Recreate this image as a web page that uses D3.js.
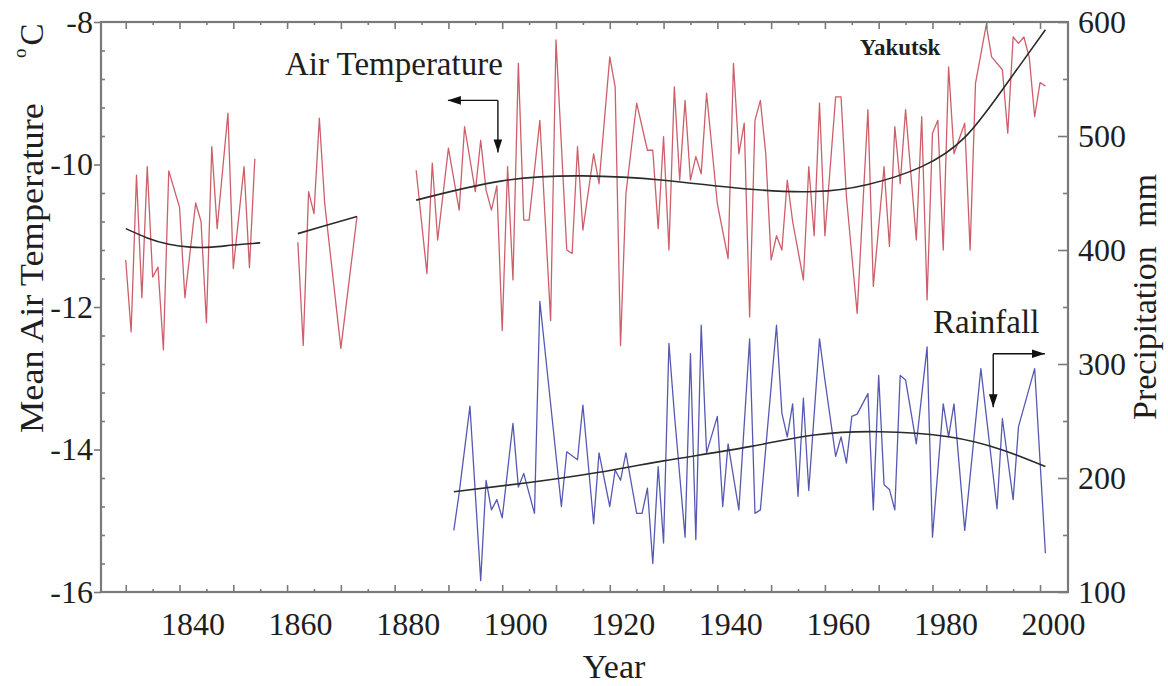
<!DOCTYPE html>
<html>
<head>
<meta charset="utf-8">
<script src="https://cdn.jsdelivr.net/npm/d3@7/dist/d3.min.js"></script>
<style>
  html, body { margin: 0; padding: 0; background: #fff; }
  svg { display: block; }
  text { font-family: "Liberation Serif", "Times New Roman", serif; fill: #1e1e1e; }
</style>
</head>
<body>
<svg id="chart" width="1168" height="686"></svg>
<script>
// ---------------- DATA ----------------
// Air temperature, early segment (deg C)
const tempYears1 = [1830,1831,1832,1833,1834,1835,1836,1837,1838,1840,1841,1843,1844,1845,1846,1847,1849,1850,1852,1853,1854];
const tempVals1  = [-11.34,-12.35,-10.15,-11.87,-10.03,-11.58,-11.44,-12.6,-10.09,-10.6,-11.87,-10.54,-10.8,-12.22,-9.75,-10.9,-9.28,-11.46,-10.03,-11.45,-9.92];
// Air temperature, second segment
const tempYears2 = [1862,1863,1864,1865,1866,1867,1870,1873];
const tempVals2  = [-11.09,-12.54,-10.38,-10.69,-9.35,-10.55,-12.58,-10.73];
// Air temperature, main segment
const tempYears3 = [1884,1886,1887,1888,1890,1892,1893,1895,1896,1897,1898,1899,1900,1901,1902,1903,1904,1905,1907,1909,1910,1912,1913,1914,1915,1917,1918,1920,1921,1922,1923,1925,1927,1928,1929,1930,1931,1932,1933,1934,1935,1936,1937,1938,1940,1942,1943,1944,1945,1946,1947,1948,1949,1950,1951,1952,1953,1954,1956,1957,1958,1959,1960,1962,1963,1964,1966,1968,1969,1971,1972,1973,1974,1975,1977,1978,1979,1980,1981,1982,1983,1984,1986,1987,1988,1990,1991,1993,1994,1995,1996,1997,1998,1999,2000,2001];
const tempVals3  = [-10.08,-11.53,-9.98,-11.06,-9.77,-10.64,-9.47,-10.38,-9.66,-10.36,-10.64,-10.3,-12.33,-10.03,-11.62,-8.58,-10.78,-10.78,-9.38,-12.19,-8.25,-11.2,-11.25,-9.75,-10.92,-9.85,-10.27,-8.49,-8.91,-12.54,-10.41,-9.14,-9.8,-9.8,-10.9,-9.61,-11.2,-8.91,-10.22,-9.1,-10.22,-9.89,-10.13,-9.0,-10.55,-11.32,-8.58,-9.85,-9.42,-12.14,-9.38,-9.1,-9.85,-11.34,-11.0,-11.2,-10.22,-10.8,-11.62,-10.03,-11.0,-9.14,-11.0,-9.05,-9.05,-10.45,-12.09,-9.23,-11.71,-10.03,-11.15,-9.47,-10.27,-9.23,-11.06,-9.33,-11.9,-9.56,-9.38,-11.2,-8.63,-9.85,-9.42,-11.2,-8.86,-8.04,-8.49,-8.67,-9.56,-8.21,-8.3,-8.21,-8.5,-9.33,-8.85,-8.9];
// Temperature trend curves
const tTrendYears1 = [1830,1834,1838,1842,1846,1850,1855];
const tTrendVals1  = [-10.9,-11.03,-11.12,-11.16,-11.16,-11.13,-11.1];
const tTrendYears2 = [1862,1867,1873];
const tTrendVals2  = [-10.97,-10.86,-10.73];
const tTrendYears3 = [1884,1900,1915,1930,1945,1958,1968,1978,1986,1993,2001];
const tTrendVals3  = [-10.5,-10.23,-10.16,-10.22,-10.34,-10.38,-10.28,-10.03,-9.62,-8.95,-8.11];
// Rainfall (mm)
const rainYears = [1891,1892,1894,1896,1897,1898,1899,1900,1902,1903,1904,1906,1907,1911,1912,1914,1915,1917,1918,1920,1921,1922,1923,1925,1926,1927,1928,1929,1930,1931,1932,1934,1935,1936,1937,1938,1940,1941,1942,1944,1946,1947,1948,1951,1952,1953,1954,1955,1956,1957,1959,1960,1962,1963,1964,1965,1966,1968,1969,1970,1971,1972,1973,1974,1975,1977,1979,1980,1982,1983,1984,1986,1989,1992,1993,1995,1996,1999,2001];
const rainVals  = [154,187,263,110,198,172,181,165,248,192,204,169,355,175,223,216,264,160,222,175,207,198,222,169,169,191,125,210,143,318,257,148,309,146,334,222,254,175,230,172,322,169,172,334,257,236,265,184,270,189,322,286,219,236,213,254,256,274,172,290,194,190,172,290,286,230,315,148,265,236,265,154,296,173,252,181,245,296,134];
const rTrendYears = [1891,1905,1918,1930,1946,1958,1970,1983,1993,2001];
const rTrendVals  = [188,196,205,215,227.5,237.7,240.6,236.2,224.6,210];
// Axis ticks
const xMajorTicks = [1830,1840,1850,1860,1870,1880,1890,1900,1910,1920,1930,1940,1950,1960,1970,1980,1990,2000];
const xLabelTicks = [1840,1860,1880,1900,1920,1940,1960,1980,2000];
const xMinorTicks = [1835,1845,1855,1865,1875,1885,1895,1905,1915,1925,1935,1945,1955,1965,1975,1985,1995];
const tMajorTicks = [-16,-14,-12,-10,-8];
const tMinorTicks = [-15.6,-15.2,-14.8,-14.4,-13.6,-13.2,-12.8,-12.4,-11.6,-11.2,-10.8,-10.4,-9.6,-9.2,-8.8,-8.4];
const pMajorTicks = [100,200,300,400,500,600];
const pMinorTicks = [150,250,350,450,550];

// ---------------- CHART ----------------
const svg = d3.select('#chart');
const L = 101, R = 1068, T = 22, B = 592;
const x  = d3.scaleLinear().domain([1825.4, 2005.2]).range([L, R]);
const yT = d3.scaleLinear().domain([-16, -8]).range([B, T]);
const yP = d3.scaleLinear().domain([100, 600]).range([B, T]);

const axisColor = '#7a7a7a';
const fontTick = 32;

function styleAxis(sel) {
  sel.select('.domain').remove();
  sel.selectAll('line').attr('stroke', axisColor).attr('stroke-width', 1.6);
  sel.selectAll('text').style('font-size', fontTick + 'px').attr('fill', '#1e1e1e')
     .style('font-family', '"Liberation Serif", "Times New Roman", serif');
}

// data lines
const lineT = d3.line().x(d => x(d[0])).y(d => yT(d[1]));
const lineP = d3.line().x(d => x(d[0])).y(d => yP(d[1]));
const zip = (a, b) => a.map((v, i) => [v, b[i]]);

const red = '#cd5f6b', blue = '#5659b2', trend = '#2b2b2b';

[[tempYears1, tempVals1], [tempYears2, tempVals2], [tempYears3, tempVals3]].forEach(([ys, vs]) => {
  svg.append('path').datum(zip(ys, vs)).attr('d', lineT)
     .attr('fill', 'none').attr('stroke', red).attr('stroke-width', 1.3).attr('stroke-linejoin', 'round');
});
svg.append('path').datum(zip(rainYears, rainVals)).attr('d', lineP)
   .attr('fill', 'none').attr('stroke', blue).attr('stroke-width', 1.3).attr('stroke-linejoin', 'round');

const lineTs = d3.line().curve(d3.curveNatural).x(d => x(d[0])).y(d => yT(d[1]));
const linePs = d3.line().curve(d3.curveNatural).x(d => x(d[0])).y(d => yP(d[1]));
[[tTrendYears1, tTrendVals1], [tTrendYears2, tTrendVals2], [tTrendYears3, tTrendVals3]].forEach(([ys, vs]) => {
  svg.append('path').datum(zip(ys, vs)).attr('d', lineTs)
     .attr('fill', 'none').attr('stroke', trend).attr('stroke-width', 1.6);
});
svg.append('path').datum(zip(rTrendYears, rTrendVals)).attr('d', linePs)
   .attr('fill', 'none').attr('stroke', trend).attr('stroke-width', 1.6);

// frame
svg.append('rect').attr('x', L).attr('y', T).attr('width', R - L).attr('height', B - T)
   .attr('fill', 'none').attr('stroke', axisColor).attr('stroke-width', 2.2);

// bottom axis
const gB = svg.append('g').attr('transform', `translate(0,${B})`)
  .call(d3.axisBottom(x).tickValues(xMajorTicks).tickSize(-7).tickSizeOuter(0).tickPadding(20)
        .tickFormat(d => xLabelTicks.includes(d) ? String(d) : ''));
styleAxis(gB);
gB.selectAll('text').attr('dx', 13);
const gBm = svg.append('g').attr('transform', `translate(0,${B})`)
  .call(d3.axisBottom(x).tickValues(xMinorTicks).tickSize(-3).tickSizeOuter(0).tickFormat(''));
styleAxis(gBm);

// top axis (mirrored ticks)
const gTop = svg.append('g').attr('transform', `translate(0,${T})`)
  .call(d3.axisTop(x).tickValues(xMajorTicks).tickSize(-7).tickSizeOuter(0).tickFormat(''));
styleAxis(gTop);
const gTopm = svg.append('g').attr('transform', `translate(0,${T})`)
  .call(d3.axisTop(x).tickValues(xMinorTicks).tickSize(-3).tickSizeOuter(0).tickFormat(''));
styleAxis(gTopm);

// left axis
const gL = svg.append('g').attr('transform', `translate(${L},0)`)
  .call(d3.axisLeft(yT).tickValues(tMajorTicks).tickSize(7).tickSizeOuter(0).tickPadding(1).tickFormat(d3.format('d')));
styleAxis(gL);
gL.selectAll('text').text(d => String(d));
const gLm = svg.append('g').attr('transform', `translate(${L},0)`)
  .call(d3.axisLeft(yT).tickValues(tMinorTicks).tickSize(-4).tickSizeOuter(0).tickFormat(''));
styleAxis(gLm);

// right axis
const gR = svg.append('g').attr('transform', `translate(${R},0)`)
  .call(d3.axisRight(yP).tickValues(pMajorTicks).tickSize(-10).tickSizeOuter(0).tickPadding(10).tickFormat(d3.format('d')));
styleAxis(gR);
const gRm = svg.append('g').attr('transform', `translate(${R},0)`)
  .call(d3.axisRight(yP).tickValues(pMinorTicks).tickSize(-5).tickSizeOuter(0).tickFormat(''));
styleAxis(gRm);

// axis titles
svg.append('text').attr('x', 614).attr('y', 678).attr('text-anchor', 'middle')
   .style('font-size', '34px').text('Year');

svg.append('text').attr('transform', 'translate(43,433) rotate(-90)')
   .attr('textLength', 330).attr('lengthAdjust', 'spacingAndGlyphs')
   .style('font-size', '33px').text('Mean Air Temperature');
const degC = svg.append('text').attr('transform', 'translate(43,58) rotate(-90)').style('font-size', '33px');
degC.append('tspan').style('font-size', '19px').attr('dy', -17).text('o');
degC.append('tspan').attr('dx', 3).attr('dy', 17).text('C');

svg.append('text').attr('transform', 'translate(1156,420) rotate(-90)')
   .style('font-size', '34px').text('Precipitation');
svg.append('text').attr('transform', 'translate(1156,227) rotate(-90)')
   .style('font-size', '34px').text('mm');

// annotations
const defs = svg.append('defs');
defs.append('marker').attr('id', 'ah').attr('viewBox', '0 0 12 8').attr('refX', 12).attr('refY', 4)
  .attr('markerWidth', 13).attr('markerHeight', 9).attr('markerUnits', 'userSpaceOnUse').attr('orient', 'auto')
  .append('path').attr('d', 'M0,0 L12,4 L0,8 Z').attr('fill', '#111');

function elbowArrow(cx, cy, hx, vy) {
  svg.append('line').attr('x1', cx).attr('y1', cy).attr('x2', hx).attr('y2', cy)
     .attr('stroke', '#111').attr('stroke-width', 1.4).attr('marker-end', 'url(#ah)');
  svg.append('line').attr('x1', cx).attr('y1', cy).attr('x2', cx).attr('y2', vy)
     .attr('stroke', '#111').attr('stroke-width', 1.4).attr('marker-end', 'url(#ah)');
}

svg.append('text').attr('x', x(1859.6)).attr('y', yT(-8.74)).style('font-size', '33px').text('Air Temperature');
elbowArrow(x(1899.2), yT(-9.1), x(1889.9), yT(-9.83));

svg.append('text').attr('x', x(1980.1)).attr('y', yP(327)).style('font-size', '33px').text('Rainfall');
elbowArrow(x(1991.3), yP(309), x(2000.9), yP(262));

svg.append('text').attr('x', x(1966.5)).attr('y', yT(-8.46)).style('font-size', '23px')
   .style('font-weight', 'bold').text('Yakutsk');
</script>
</body>
</html>
